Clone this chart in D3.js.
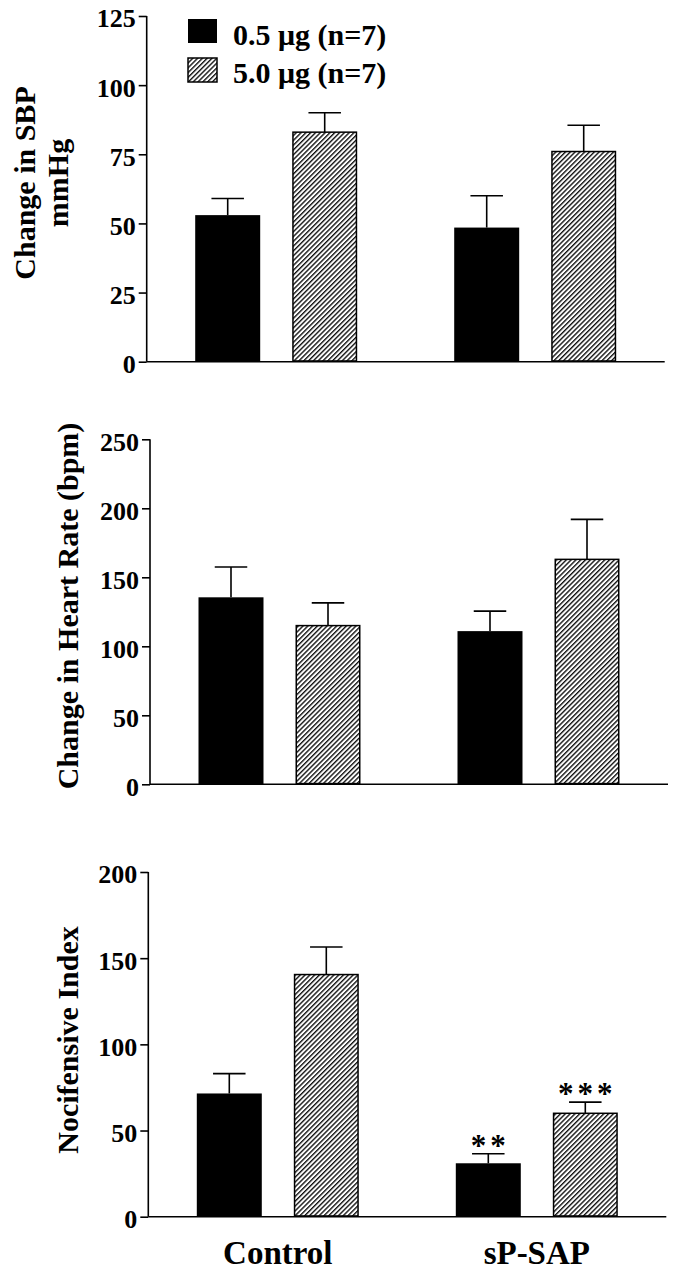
<!DOCTYPE html>
<html>
<head>
<meta charset="utf-8">
<script src="https://cdn.jsdelivr.net/npm/d3@7"></script>
<style>
  html, body { margin: 0; padding: 0; background: #fff; }
  svg { display: block; }
  text { font-family: "Liberation Serif", "Times New Roman", Times, serif; font-weight: bold; fill: #000; }
</style>
</head>
<body>
<svg id="chart" width="678" height="1277"></svg>
<script>
// ---------- DATA ----------
const categories = ["Control", "sP-SAP"];
const seriesNames = ["0.5 \u03bcg (n=7)", "5.0 \u03bcg (n=7)"];

// Change in SBP (mmHg)
const sbpMean05 = [53, 48.5];
const sbpSem05  = [6, 11.5];
const sbpMean50 = [83, 76];
const sbpSem50  = [7, 9.5];
const sbpTicks  = [0, 25, 50, 75, 100, 125];

// Change in Heart Rate (bpm)
const hrMean05 = [135.5, 111];
const hrSem05  = [22, 14.5];
const hrMean50 = [115, 163];
const hrSem50  = [16.5, 29];
const hrTicks  = [0, 50, 100, 150, 200, 250];

// Nocifensive Index
const niMean05 = [71.5, 31];
const niSem05  = [11.5, 5.5];
const niMean50 = [140.5, 60];
const niSem50  = [16, 6.5];
const niTicks  = [0, 50, 100, 150, 200];
const niStars05 = ["", "**"];
const niStars50 = ["", "***"];

// ---------- LAYOUT ----------
const svg = d3.select("#chart");
const FONT = '"Liberation Serif", "Times New Roman", Times, serif';

// hatch pattern
const defs = svg.append("defs");
const pat = defs.append("pattern")
  .attr("id", "hatch")
  .attr("patternUnits", "userSpaceOnUse")
  .attr("width", 3.4).attr("height", 3.4)
  .attr("patternTransform", "rotate(45)");
pat.append("rect").attr("width", 3.4).attr("height", 3.4).attr("fill", "#fff");
pat.append("line").attr("x1", 0.7).attr("y1", 0).attr("x2", 0.7).attr("y2", 3.4)
  .attr("stroke", "#000").attr("stroke-width", 1.3);

const panels = [
  { axisX: 146.7, y0: 361.7, yTop: 16,  max: 125, ticks: sbpTicks,
    m05: sbpMean05, s05: sbpSem05, m50: sbpMean50, s50: sbpSem50,
    titles: [{ text: "Change in SBP", x: 35, y: 183 }, { text: "mmHg", x: 68, y: 183 }] },
  { axisX: 150, y0: 784.3, yTop: 439.3, max: 250, ticks: hrTicks,
    m05: hrMean05, s05: hrSem05, m50: hrMean50, s50: hrSem50,
    titles: [{ text: "Change in Heart Rate (bpm)", x: 78, y: 606 }] },
  { axisX: 148.3, y0: 1216.7, yTop: 872, max: 200, ticks: niTicks,
    m05: niMean05, s05: niSem05, m50: niMean50, s50: niSem50,
    stars05: niStars05, stars50: niStars50,
    titles: [{ text: "Nocifensive Index", x: 78, y: 1040 }] }
];

const plotW = 518;

panels.forEach((p, pi) => {
  const g = svg.append("g");
  const y = d3.scaleLinear().domain([0, p.max]).range([p.y0, p.yTop]);
  const x0 = d3.scaleBand().domain(categories).range([p.axisX, p.axisX + plotW]).padding(0);
  const x1 = d3.scaleBand().domain([0, 1]).range([0, x0.bandwidth()])
    .paddingInner(0.33).paddingOuter(0.5);

  const rows = [];
  categories.forEach((c, i) => {
    rows.push({ cat: c, s: 0, mean: p.m05[i], sem: p.s05[i], star: p.stars05 ? p.stars05[i] : "" });
    rows.push({ cat: c, s: 1, mean: p.m50[i], sem: p.s50[i], star: p.stars50 ? p.stars50[i] : "" });
  });

  // error bars (drawn behind bars)
  const eb = g.append("g").attr("stroke", "#000").attr("stroke-width", 1.6);
  rows.forEach(r => {
    const cx = x0(r.cat) + x1(r.s) + x1.bandwidth() / 2;
    const half = x1.bandwidth() / 4;
    eb.append("line").attr("x1", cx).attr("x2", cx)
      .attr("y1", y(r.mean)).attr("y2", y(r.mean + r.sem));
    eb.append("line").attr("x1", cx - half).attr("x2", cx + half)
      .attr("y1", y(r.mean + r.sem)).attr("y2", y(r.mean + r.sem));
  });

  // bars
  g.selectAll("rect.bar").data(rows).join("rect")
    .attr("class", "bar")
    .attr("x", d => x0(d.cat) + x1(d.s) + (d.s ? 0.75 : 0))
    .attr("width", d => x1.bandwidth() - (d.s ? 1.5 : 0))
    .attr("y", d => y(d.mean))
    .attr("height", d => p.y0 - y(d.mean) - (d.s ? 0.75 : 0))
    .attr("fill", d => d.s ? "url(#hatch)" : "#000")
    .attr("stroke", d => d.s ? "#000" : "none")
    .attr("stroke-width", 1.5);

  // stars
  rows.filter(r => r.star).forEach(r => {
    const cx = x0(r.cat) + x1(r.s) + x1.bandwidth() / 2;
    g.append("text").attr("x", cx + 2).attr("y", y(r.mean + r.sem) + 2)
      .attr("text-anchor", "middle")
      .style("font-size", "31px")
      .style("letter-spacing", "4px")
      .text(r.star);
  });

  // y axis
  const ax = g.append("g").attr("transform", `translate(${p.axisX},0)`)
    .call(d3.axisLeft(y).tickValues(p.ticks).tickSize(8).tickPadding(3).tickFormat(d3.format("d")));
  ax.select(".domain").attr("stroke", "#000").attr("stroke-width", 1.6).attr("d", `M0,${p.yTop}V${p.y0}`);
  ax.selectAll(".tick line").attr("stroke", "#000").attr("stroke-width", 1.6);
  ax.selectAll(".tick text")
    .attr("dy", "0.42em")
    .style("font-family", FONT).style("font-weight", "bold").style("font-size", "26px")
    .attr("fill", "#000");

  // x axis baseline
  g.append("line").attr("x1", p.axisX).attr("x2", p.axisX + plotW)
    .attr("y1", p.y0).attr("y2", p.y0)
    .attr("stroke", "#000").attr("stroke-width", 1.6);

  // titles
  p.titles.forEach(t => {
    g.append("text")
      .attr("transform", `translate(${t.x},${t.y}) rotate(-90)`)
      .attr("text-anchor", "middle")
      .style("font-size", "30px")
      .text(t.text);
  });

  // category labels on last panel
  if (pi === panels.length - 1) {
    categories.forEach(c => {
      g.append("text").attr("x", x0(c) + x0.bandwidth() / 2).attr("y", 1264)
        .attr("text-anchor", "middle").style("font-size", "33px").text(c);
    });
  }
});

// legend
const legend = svg.append("g");
const legendRows = [
  { fill: "#000", stroke: "none", y: 19, ty: 45 },
  { fill: "url(#hatch)", stroke: "#000", y: 58, ty: 83 }
];
seriesNames.forEach((name, i) => {
  const L = legendRows[i];
  legend.append("rect").attr("x", 188).attr("y", L.y).attr("width", 29).attr("height", 24)
    .attr("fill", L.fill).attr("stroke", L.stroke).attr("stroke-width", 1.5);
  legend.append("text").attr("x", 233).attr("y", L.ty).style("font-size", "30px").text(name);
});
</script>
</body>
</html>
